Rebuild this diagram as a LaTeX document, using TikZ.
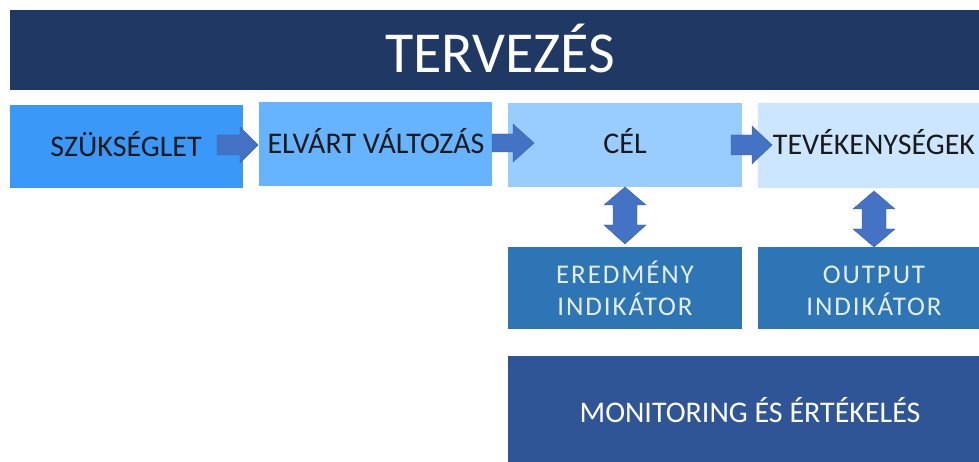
\documentclass[tikz,border=0pt]{standalone}
\usepackage{fontspec}
\setmainfont{Carlito}
\usetikzlibrary{positioning,calc}
\definecolor{navy}{HTML}{203864}
\definecolor{cA}{HTML}{3A98F8}
\definecolor{cB}{HTML}{66B3FF}
\definecolor{cC}{HTML}{99CCFF}
\definecolor{cD}{HTML}{CCE6FF}
\definecolor{cInd}{HTML}{2E75B6}
\definecolor{cMon}{HTML}{2F5597}
\definecolor{cArr}{HTML}{4472C4}
\definecolor{txtdark}{HTML}{1A1A1A}
\definecolor{txtlight}{HTML}{E4EEF8}
\tikzset{
  box/.style={rectangle, inner sep=0pt, anchor=north west, minimum width=#1},
  toptext/.style={text=txtdark, anchor=base, inner sep=0pt, font=\fontsize{30}{34}\selectfont},
  indtext/.style={text=txtlight, align=center, anchor=base, inner sep=0pt, font=\fontsize{27}{32}\selectfont\addfontfeatures{LetterSpace=7}},
  blockarrow/.style={fill=cArr, draw=cArr!85!black, line width=0.4pt}
}
\begin{document}
\begin{tikzpicture}[x=1pt,y=-1pt]
\useasboundingbox (0,0) rectangle (979,462);
% title
\node[box=969, minimum height=80, fill=navy] (title) at (10,10) {};
\node[text=white, anchor=base, inner sep=0pt, font=\fontsize{58}{64}\selectfont] (titletext) at (500,73) {TERVEZÉS};
% top row
\node[box=233, minimum height=83, fill=cA] (szuk) at (10,105) {};
\node[toptext] (szukt) at (126,157) {SZÜKSÉGLET};
\node[box=233, minimum height=84, fill=cB] (elv) at (259,102) {};
\node[toptext] (elvt) at (376,154) {ELVÁRT VÁLTOZÁS};
\node[box=234, minimum height=84, fill=cC] (cel) at (508,103) {};
\node[toptext] (celt) at (625,154) {CÉL};
\node[box=221, minimum height=85, fill=cD] (tev) at (758,103) {};
\node[toptext] (tevt) at (874,155) {TEVÉKENYSÉGEK};
% indicator row
\node[box=234, minimum height=82, fill=cInd] (ered) at (508,247) {};
\node[indtext] (eredt) at (625,315) {EREDMÉNY\\INDIKÁTOR};
\node[box=221, minimum height=82, fill=cInd] (outp) at (758,247) {};
\node[indtext] (outpt) at (874,315) {OUTPUT\\INDIKÁTOR};
% monitoring
\node[box=471, minimum height=106, fill=cMon] (mon) at (508,356) {};
\node[text=white, anchor=base, inner sep=0pt, font=\fontsize{30}{34}\selectfont] (mont) at (750,422) {MONITORING ÉS ÉRTÉKELÉS};
% horizontal block arrows
\draw[blockarrow] (217,135) -- (240,135) -- (240,127) -- (258,145) -- (240,163) -- (240,155) -- (217,155) -- cycle;
\draw[blockarrow] (492,134) -- (513,134) -- (513,124) -- (534,143) -- (513,162) -- (513,152) -- (492,152) -- cycle;
\draw[blockarrow] (731,135) -- (752,135) -- (752,126) -- (772,145) -- (752,164) -- (752,155) -- (731,155) -- cycle;
% vertical double arrows
\draw[blockarrow] (625,187) -- (646,205) -- (637,205) -- (637,225) -- (646,225) -- (625,244) -- (604,225) -- (613,225) -- (613,205) -- (604,205) -- cycle;
\draw[blockarrow] (874,191) -- (895,209) -- (886,209) -- (886,229) -- (895,229) -- (874,247) -- (853,229) -- (862,229) -- (862,209) -- (853,209) -- cycle;
\end{tikzpicture}
\end{document}
